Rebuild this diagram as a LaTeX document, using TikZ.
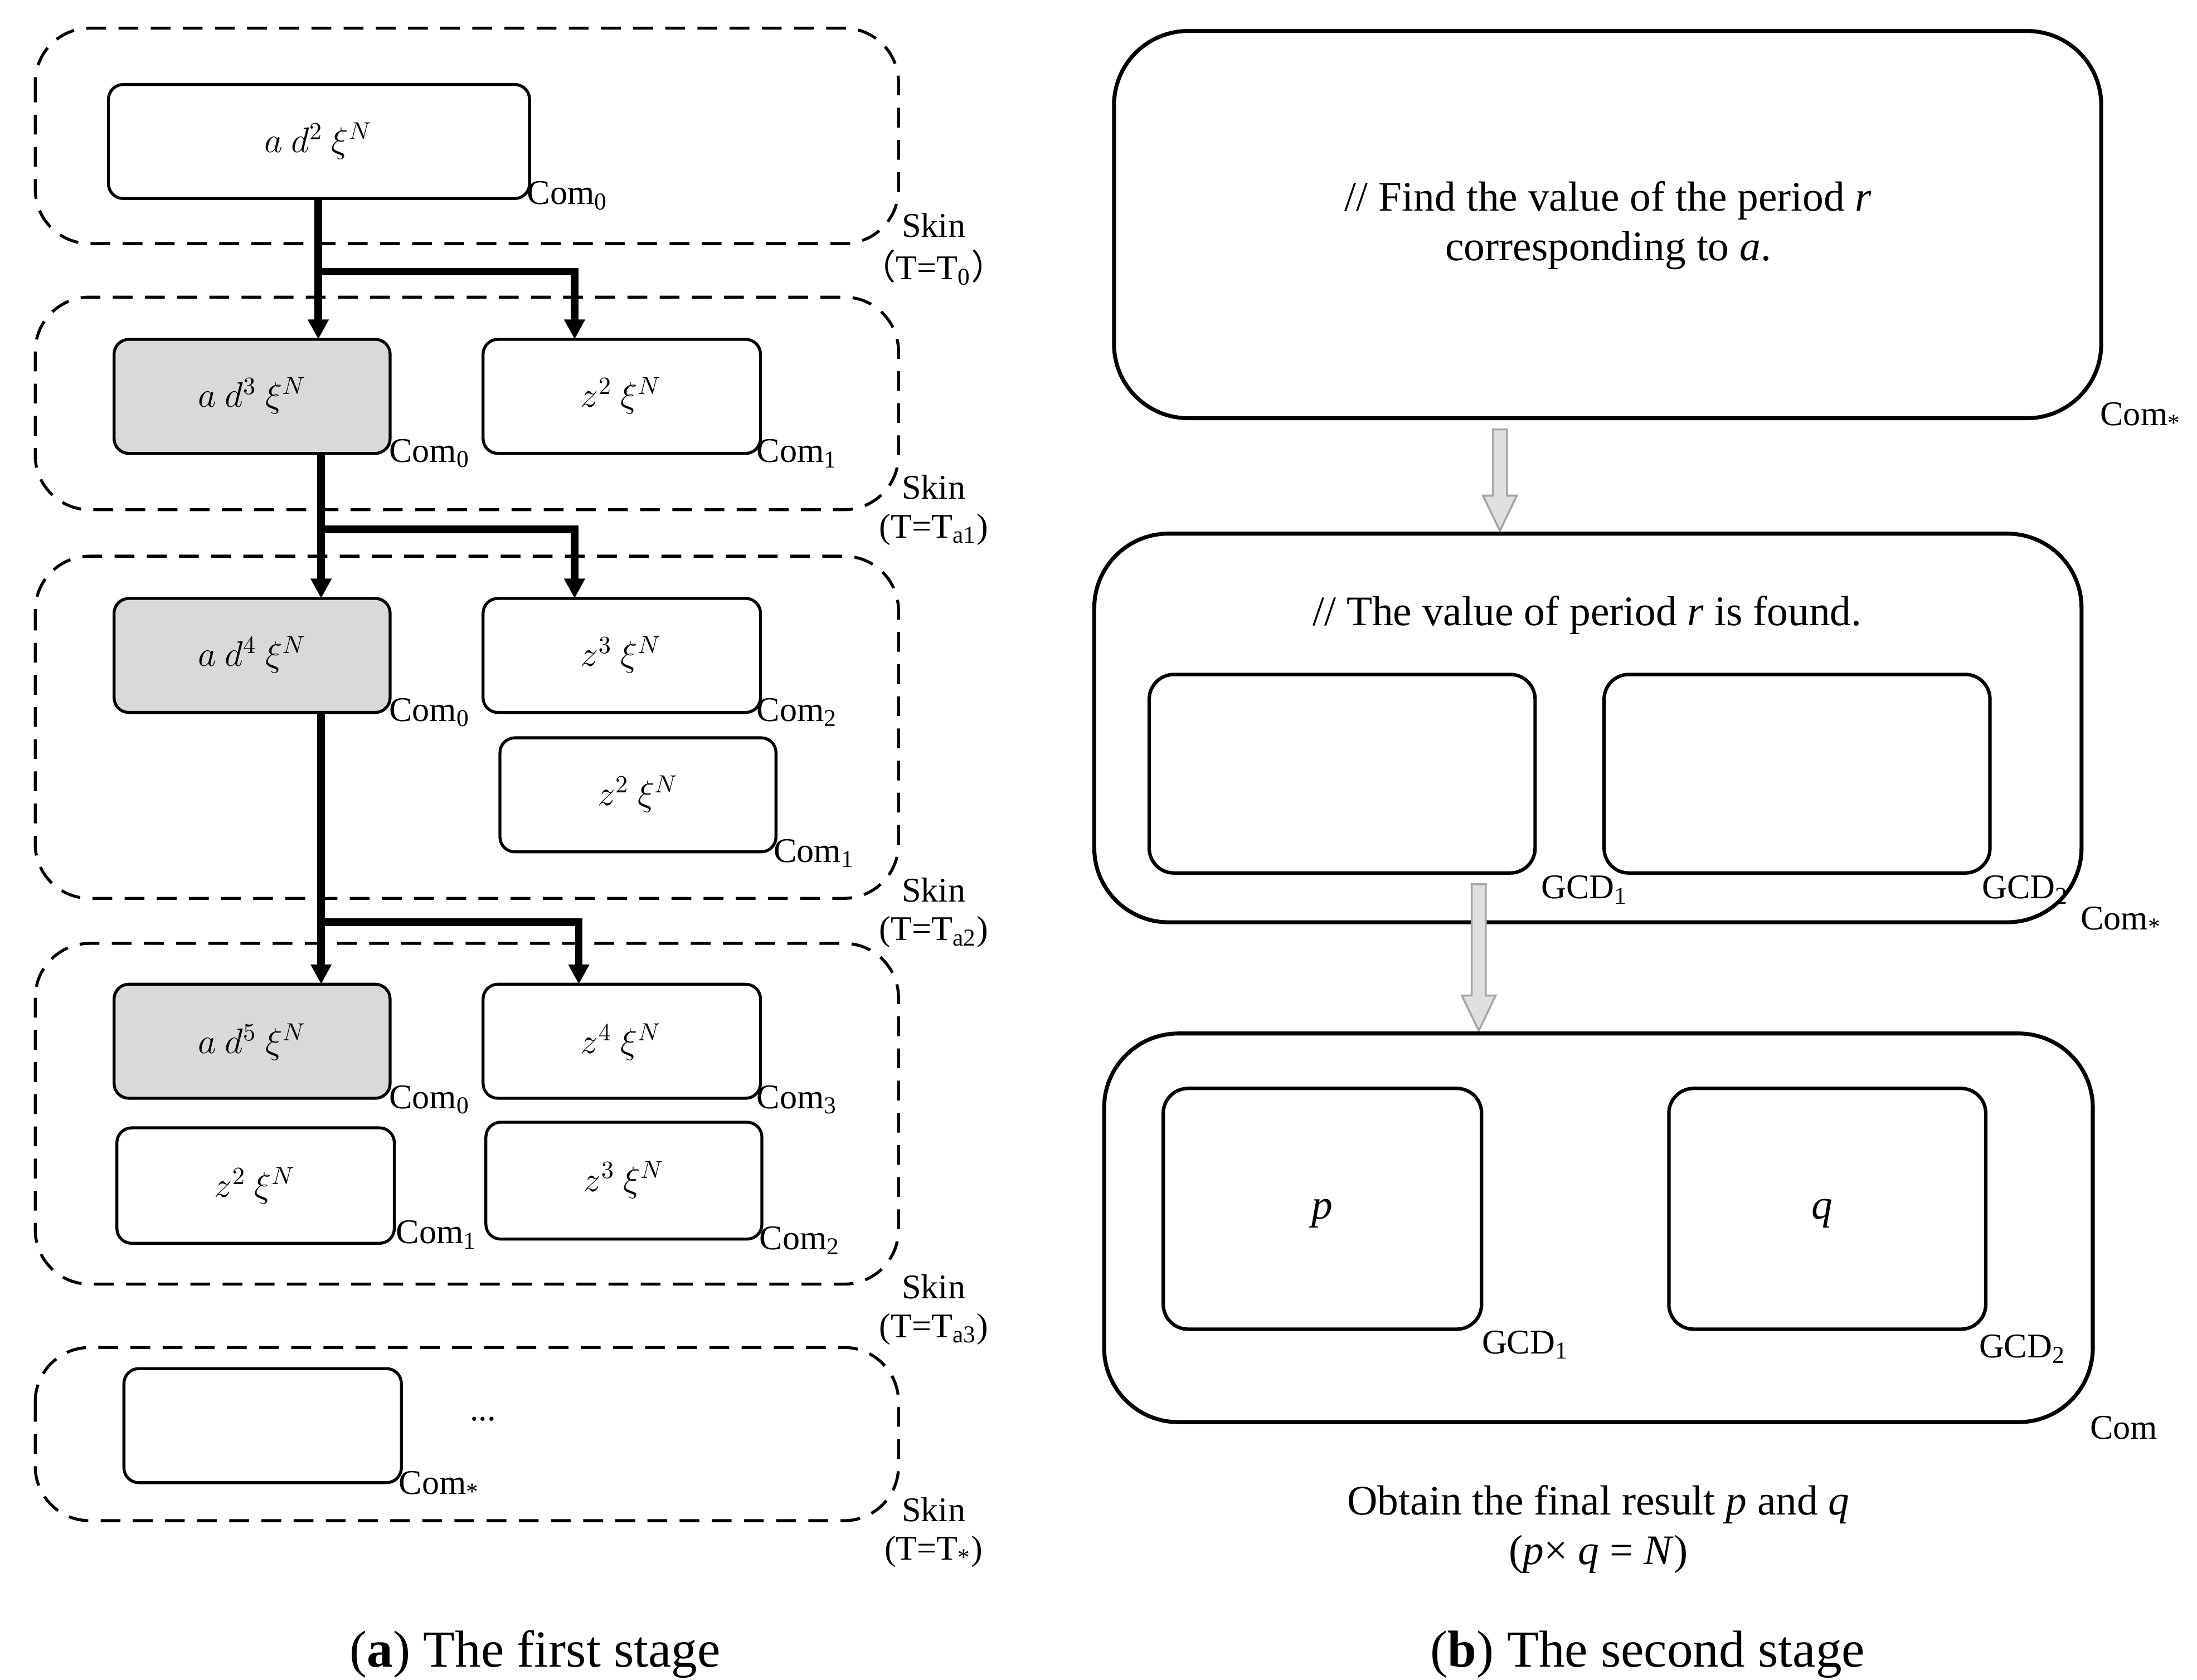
\documentclass[tikz,border=0pt]{standalone}
\usepackage{fontspec}
\setmainfont{Liberation Serif}
\newfontfamily\cjk{Noto Sans CJK SC}
\usetikzlibrary{arrows.meta}
\begin{document}
\begin{tikzpicture}[x=0.02cm,y=-0.02cm,
 skin/.style={draw,dash pattern=on 8pt off 5pt,line width=1.2pt,rounded corners=22pt},
 box/.style={draw,line width=1.2pt,rounded corners=6pt},
 gbox/.style={box,fill=gray!30},
 big/.style={draw,line width=1.6pt,rounded corners=30pt},
 ibox/.style={draw,line width=1.4pt,rounded corners=10pt},
 lab/.style={font=\fontsize{14}{16}\selectfont,inner sep=0pt},
 tx/.style={font=\fontsize{14}{16}\selectfont\itshape},
 btx/.style={font=\fontsize{17}{20}\selectfont,align=center},
 arr/.style={line width=3pt,-{Triangle[length=8pt,width=8pt]}},
 garr/.style={draw=gray!70,fill=gray!25,line width=0.8pt}]
\useasboundingbox (0,0) rectangle (1560,1193);
% left skins
\draw[skin] (25,20) rectangle (638,173);
\draw[skin] (25,211) rectangle (638,362);
\draw[skin] (25,395) rectangle (638,638);
\draw[skin] (25,670) rectangle (638,912);
\draw[skin] (25,957) rectangle (638,1080);
\foreach \y/\t in {160/{{\cjk （}T=T\textsubscript{0}{\cjk ）}},346/{(T=T\textsubscript{a1})},632/{(T=T\textsubscript{a2})},914/{(T=T\textsubscript{a3})},1072/{(T=T\textsubscript{*})}}{
 \node[lab] at (663,\y) {Skin};
 \node[lab] at (663,\y+30) {\t};}
% boxes
\draw[box] (77,60) rectangle (376,141); \node[tx] (b0) at (226,100) {$a\ d^2\ \xi^N$}; \node[lab] at (403,139) {Com\textsubscript{0}};
\draw[gbox] (81,241) rectangle (277,322); \node[tx] (b1) at (179,281) {$a\ d^3\ \xi^N$}; \node[lab] at (305,322) {Com\textsubscript{0}};
\draw[box] (343,241) rectangle (540,322); \node[tx] (c1) at (441,281) {$z^2\ \xi^N$}; \node[lab] at (566,322) {Com\textsubscript{1}};
\draw[gbox] (81,425) rectangle (277,506); \node[tx] (b2) at (179,465) {$a\ d^4\ \xi^N$}; \node[lab] at (305,506) {Com\textsubscript{0}};
\draw[box] (343,425) rectangle (540,506); \node[tx] at (441,465) {$z^3\ \xi^N$}; \node[lab] at (566,506) {Com\textsubscript{2}};
\draw[box] (355,524) rectangle (551,605); \node[tx] at (453,564) {$z^2\ \xi^N$}; \node[lab] at (578,606) {Com\textsubscript{1}};
\draw[gbox] (81,699) rectangle (277,780); \node[tx] (b3) at (179,740) {$a\ d^5\ \xi^N$}; \node[lab] at (305,781) {Com\textsubscript{0}};
\draw[box] (343,699) rectangle (540,780); \node[tx] at (441,740) {$z^4\ \xi^N$}; \node[lab] at (566,781) {Com\textsubscript{3}};
\draw[box] (83,801) rectangle (280,883); \node[tx] at (181,842) {$z^2\ \xi^N$}; \node[lab] at (310,877) {Com\textsubscript{1}};
\draw[box] (345,797) rectangle (541,880); \node[tx] at (443,838) {$z^3\ \xi^N$}; \node[lab] at (568,881) {Com\textsubscript{2}};
\draw[box] (88,972) rectangle (285,1053); \node[lab] at (312,1055) {Com\textsubscript{*}};
\node[lab] at (343,1008) {...};
% arrows
\coordinate (a0) at (226,141); \coordinate (a0e) at (226,241);
\draw[arr] (a0) -- (a0e);
\draw[arr] (226,193) -- (408,193) -- (408,241);
\draw[arr] (228,322) -- (228,425);
\draw[arr] (228,376) -- (408,376) -- (408,425);
\draw[arr] (228,506) -- (228,699);
\draw[arr] (228,655) -- (411,655) -- (411,699);
\node[font=\fontsize{21}{24}\selectfont] at (380,1175) {(\textbf{a}) The first stage};
% right
\draw[big] (791,22) rectangle (1492,297);
\node[btx] at (1142,160) {// Find the value of the period \textit{r}\\corresponding to \textit{a}.};
\node[lab] at (1520,296) {Com\textsubscript{*}};
\draw[garr] (1060,305) -- (1070,305) -- (1070,352) -- (1077,352) -- (1065,377) -- (1053,352) -- (1060,352) -- cycle;
\draw[big] (777,379) rectangle (1478,655);
\node[btx] at (1127,437) {// The value of period \textit{r} is found.};
\draw[ibox] (816,479) rectangle (1090,620); \node[lab] at (1125,632) {GCD\textsubscript{1}};
\draw[ibox] (1139,479) rectangle (1413,620); \node[lab] at (1438,632) {GCD\textsubscript{2}};
\node[lab] at (1506,654) {Com\textsubscript{*}};
\draw[garr] (1045,628) -- (1055,628) -- (1055,707) -- (1062,707) -- (1050,732) -- (1038,707) -- (1045,707) -- cycle;
\draw[big] (784,734) rectangle (1486,1010);
\draw[ibox] (826,773) rectangle (1052,944); \node[btx] at (939,862) {\textit{p}}; \node[lab] at (1083,955) {GCD\textsubscript{1}};
\draw[ibox] (1185,773) rectangle (1410,944); \node[btx] at (1294,862) {\textit{q}}; \node[lab] at (1436,958) {GCD\textsubscript{2}};
\node[lab] at (1508,1014) {Com};
\node[btx] at (1135,1086) {Obtain the final result \textit{p} and \textit{q}\\(\textit{p}× \textit{q} = \textit{N})};
\node[font=\fontsize{21}{24}\selectfont] at (1170,1175) {(\textbf{b}) The second stage};
\end{tikzpicture}
\end{document}
